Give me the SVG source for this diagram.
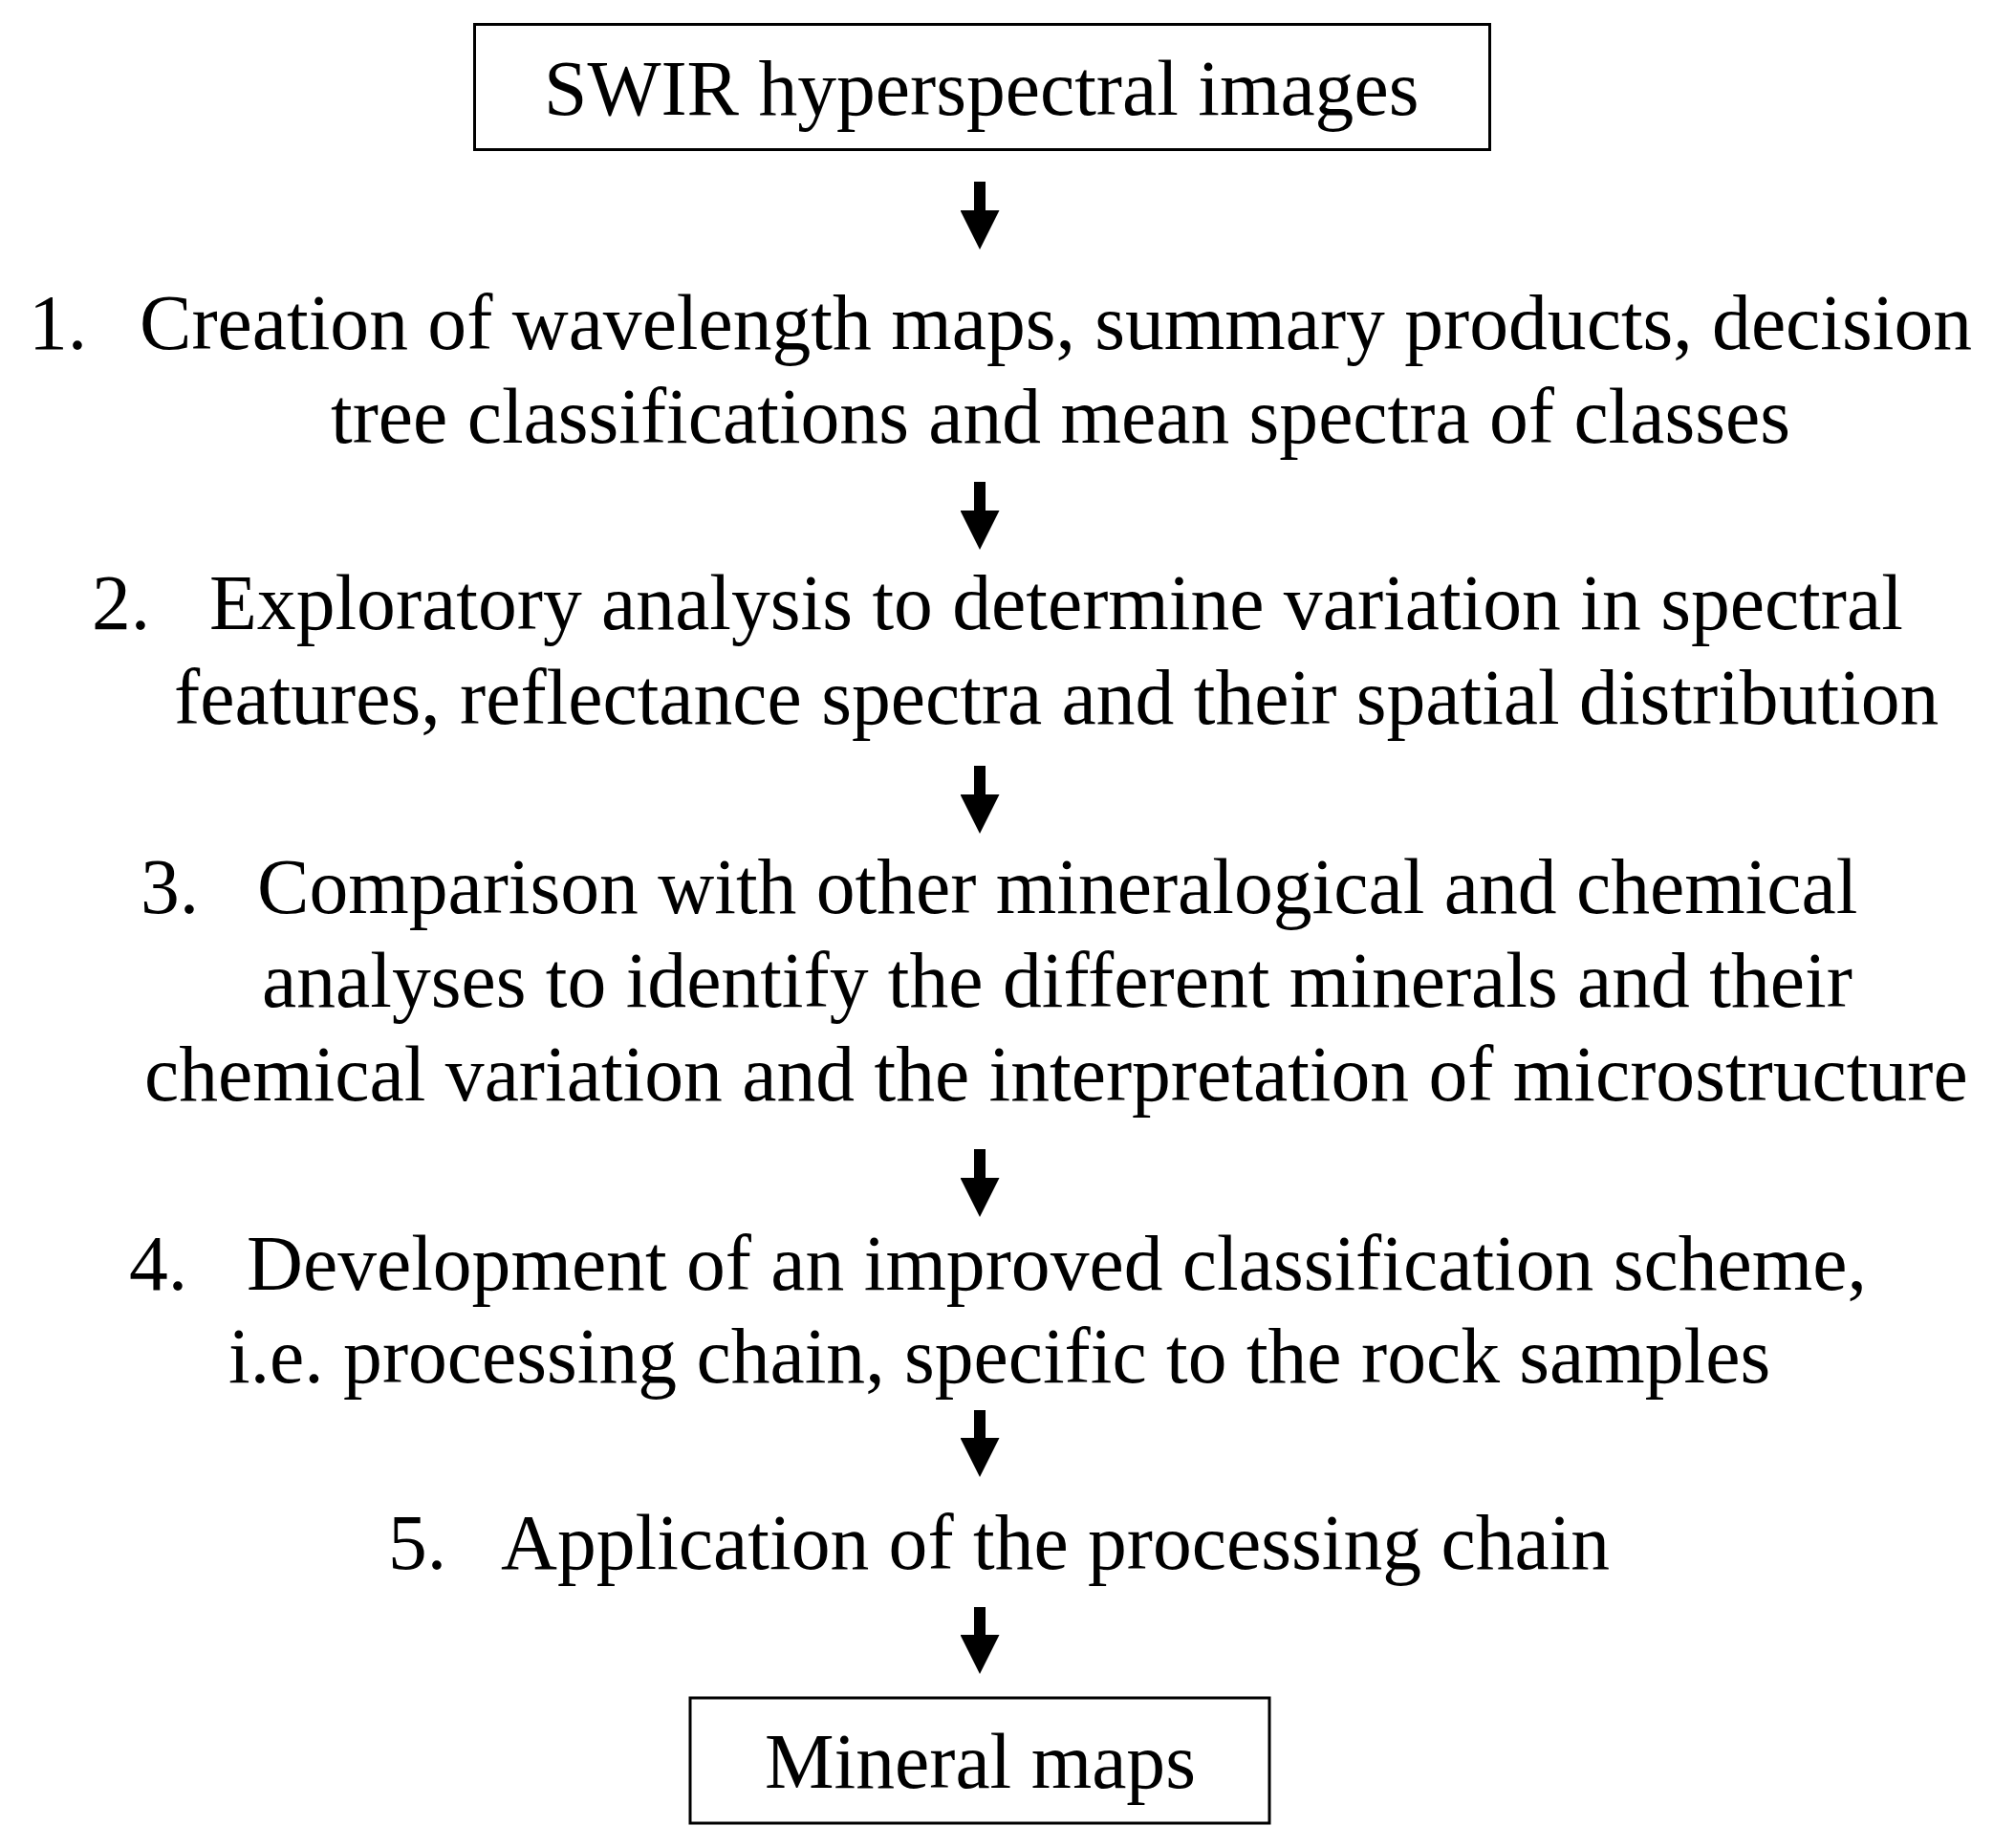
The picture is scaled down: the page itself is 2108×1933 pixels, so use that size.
<svg xmlns="http://www.w3.org/2000/svg" width="2108" height="1933" viewBox="0 0 2108 1933">
<style>
  text { font-family: "Liberation Serif", "Times New Roman", serif; font-size: 81.6px; fill: #000; }
  .box { fill: #fff; stroke: #000; stroke-width: 3; }
  .conn { stroke: #000; stroke-width: 12; fill: none; }
</style>
<defs>
  <marker id="head" markerUnits="userSpaceOnUse" markerWidth="41" markerHeight="41" refX="0" refY="20.5" orient="auto">
    <path d="M0,0 L41,20.5 L0,41 Z" fill="#000"/>
  </marker>
</defs>
<rect x="0" y="0" width="2108" height="1933" fill="#fff"/>
<g id="node-swir">
  <rect class="box" x="496.5" y="25.5" width="1062" height="131"/>
  <text x="569" y="120">SWIR hyperspectral images</text>
</g>
<g id="node-step1">
  <text x="30" y="365">1.</text>
  <text x="146" y="365">Creation of wavelength maps, summary products, decision</text>
  <text x="346" y="463">tree classifications and mean spectra of classes</text>
</g>
<g id="node-step2">
  <text x="96" y="658">2.</text>
  <text x="219" y="658">Exploratory analysis to determine variation in spectral</text>
  <text x="182" y="757">features, reflectance spectra and their spatial distribution</text>
</g>
<g id="node-step3">
  <text x="147" y="955">3.</text>
  <text x="269" y="955">Comparison with other mineralogical and chemical</text>
  <text x="274" y="1053">analyses to identify the different minerals and their</text>
  <text x="151" y="1151">chemical variation and the interpretation of microstructure</text>
</g>
<g id="node-step4">
  <text x="135" y="1349">4.</text>
  <text x="258" y="1349">Development of an improved classification scheme,</text>
  <text x="239" y="1446">i.e. processing chain, specific to the rock samples</text>
</g>
<g id="node-step5">
  <text x="406" y="1641">5.</text>
  <text x="524" y="1641">Application of the processing chain</text>
</g>
<g id="node-minerals">
  <rect class="box" x="722" y="1776" width="606" height="131"/>
  <text x="800" y="1870">Mineral maps</text>
</g>
<g id="connectors">
  <line class="conn" x1="1025" y1="190" x2="1025" y2="220" marker-end="url(#head)"/>
  <line class="conn" x1="1025" y1="504" x2="1025" y2="534" marker-end="url(#head)"/>
  <line class="conn" x1="1025" y1="801" x2="1025" y2="831" marker-end="url(#head)"/>
  <line class="conn" x1="1025" y1="1202" x2="1025" y2="1232" marker-end="url(#head)"/>
  <line class="conn" x1="1025" y1="1475" x2="1025" y2="1504" marker-end="url(#head)"/>
  <line class="conn" x1="1025" y1="1681" x2="1025" y2="1710" marker-end="url(#head)"/>
</g>
</svg>
